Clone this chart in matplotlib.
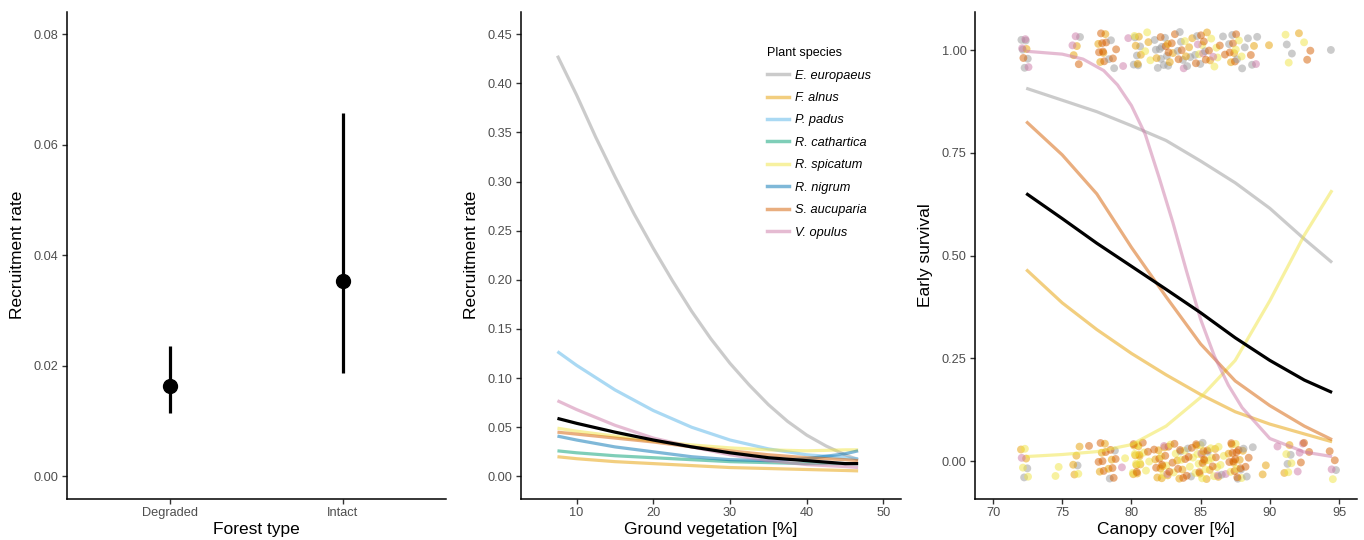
import numpy as np
import matplotlib
matplotlib.use('Agg')
import matplotlib.pyplot as plt
from matplotlib.lines import Line2D
from matplotlib.ticker import FormatStrFormatter

plt.rcParams['font.family'] = ['Liberation Sans', 'DejaVu Sans']

# ---------------- Panel 1 data ----------------
forest_types = ['Degraded', 'Intact']
rate_est = [0.0163, 0.0353]
rate_lo = [0.0114, 0.0187]
rate_hi = [0.0236, 0.0658]

# ---------------- species / colours ----------------
species = ['E. europaeus', 'F. alnus', 'P. padus', 'R. cathartica',
           'R. spicatum', 'R. nigrum', 'S. aucuparia', 'V. opulus']
species_colors = ['#999999', '#E69F00', '#56B4E9', '#009E73',
                  '#F0E442', '#0072B2', '#D55E00', '#CC79A7']

# ---------------- Panel 2 data ----------------
veg_x = [7.5, 10, 15, 20, 25, 30, 35, 40, 45, 46.7]
europaeus_x = [7.5, 10, 12.5, 15, 17.5, 20, 22.5, 25, 27.5, 30, 32.5, 35, 37.5, 40, 42.5, 45, 46.7]
veg_europaeus = [0.428, 0.388, 0.345, 0.305, 0.267, 0.232, 0.199, 0.168, 0.140, 0.115,
                 0.093, 0.073, 0.056, 0.042, 0.031, 0.022, 0.017]
veg_alnus = [0.020, 0.018, 0.015, 0.013, 0.011, 0.009, 0.008, 0.007, 0.006, 0.0056]
veg_padus = [0.127, 0.113, 0.088, 0.067, 0.050, 0.037, 0.028, 0.022, 0.019, 0.018]
veg_cathartica = [0.026, 0.024, 0.021, 0.019, 0.017, 0.015, 0.014, 0.013, 0.013, 0.013]
veg_spicatum = [0.049, 0.046, 0.041, 0.036, 0.032, 0.029, 0.027, 0.026, 0.027, 0.027]
veg_nigrum = [0.041, 0.037, 0.030, 0.025, 0.020, 0.017, 0.016, 0.018, 0.023, 0.026]
veg_aucuparia = [0.045, 0.043, 0.039, 0.035, 0.030, 0.026, 0.022, 0.019, 0.017, 0.016]
veg_opulus = [0.077, 0.068, 0.052, 0.039, 0.030, 0.022, 0.016, 0.012, 0.010, 0.009]
veg_overall = [0.059, 0.054, 0.045, 0.037, 0.030, 0.024, 0.019, 0.016, 0.013, 0.013]

# ---------------- Panel 3 data ----------------
cov_x = [72.4, 75, 77.5, 80, 82.5, 85, 87.5, 90, 92.5, 94.5]
surv_europaeus = [0.907, 0.878, 0.850, 0.816, 0.780, 0.730, 0.677, 0.615, 0.540, 0.483]
surv_alnus = [0.466, 0.385, 0.320, 0.262, 0.210, 0.162, 0.120, 0.090, 0.066, 0.047]
surv_spicatum = [0.011, 0.016, 0.023, 0.040, 0.085, 0.155, 0.245, 0.390, 0.550, 0.659]
surv_aucuparia = [0.826, 0.745, 0.650, 0.520, 0.400, 0.285, 0.195, 0.135, 0.085, 0.052]
surv_overall = [0.651, 0.590, 0.530, 0.474, 0.418, 0.361, 0.300, 0.245, 0.197, 0.167]
opulus_x = [72.4, 75, 76.5, 78, 79, 80, 81, 82, 83, 84, 85, 86, 87, 88, 90, 92.5, 94.5]
surv_opulus = [0.997, 0.990, 0.978, 0.950, 0.915, 0.865, 0.795, 0.690, 0.580, 0.460,
               0.345, 0.255, 0.185, 0.130, 0.055, 0.022, 0.011]

plot_cover = [72.3, 74.6, 76.0, 77.0, 77.9, 78.6, 79.6, 80.4, 81.1, 81.9,
              82.4, 82.9, 83.6, 84.2, 84.9, 85.4, 86.0, 86.6, 87.3, 87.8,
              88.2, 88.9, 89.7, 90.4, 91.3, 92.3, 92.7, 94.5]
alive_europaeus = [5,0,1,0,0,3,0,5,0,5,5,0,4,2,3,1,0,1,2,2,2,2,0,0,2,0,0,1]
dead_europaeus  = [2,0,1,0,0,2,0,0,0,0,0,0,1,2,0,2,0,1,0,2,2,1,0,0,2,0,0,1]
alive_alnus     = [1,0,2,0,4,0,0,4,1,1,0,3,0,3,0,2,0,0,2,0,0,1,1,0,0,1,0,0]
dead_alnus      = [2,0,4,0,3,2,0,9,0,5,3,0,3,0,3,4,2,0,3,2,0,0,2,0,2,0,0,0]
alive_spicatum  = [0,0,0,0,0,0,0,1,3,0,0,0,1,0,2,0,4,0,0,2,1,0,0,0,2,1,0,0]
dead_spicatum   = [3,2,1,0,0,0,1,5,3,0,3,3,2,2,4,3,4,3,2,2,0,0,0,0,3,0,0,1]
alive_aucuparia = [1,0,1,0,6,2,0,0,0,0,2,3,2,0,2,3,0,2,4,0,0,1,0,0,0,0,2,0]
dead_aucuparia  = [0,0,0,1,5,4,0,2,2,3,3,3,4,3,3,2,2,0,6,4,2,0,0,0,0,1,2,2]
alive_opulus    = [3,0,2,0,0,0,2,0,0,0,0,0,1,0,2,0,1,0,0,0,0,1,0,0,0,0,0,0]
dead_opulus     = [1,0,0,0,0,0,1,0,0,0,2,0,0,0,1,0,1,1,0,0,0,0,0,1,0,3,0,1]

# ---------------- figure ----------------
fig = plt.figure(figsize=(13.64, 5.40), dpi=100)
W, H = 1364.0, 540.0
y_top, y_bot = 12.0, 498.5
bot = (H - y_bot) / H
hgt = (y_bot - y_top) / H
ax1 = fig.add_axes([67 / W, bot, (446 - 67) / W, hgt])
ax2 = fig.add_axes([521 / W, bot, (900.7 - 521) / W, hgt])
ax3 = fig.add_axes([975 / W, bot, (1357 - 975) / W, hgt])

tick_col = '#4D4D4D'
for ax in (ax1, ax2, ax3):
    ax.spines['top'].set_visible(False)
    ax.spines['right'].set_visible(False)
    for s in ('left', 'bottom'):
        ax.spines[s].set_linewidth(1.1)
        ax.spines[s].set_color('black')
    ax.tick_params(axis='both', direction='out', length=3.5, width=1.0,
                   color='#333333', labelcolor=tick_col, labelsize=9.2, pad=2.5)

# Panel 1
xpos = np.arange(1, len(forest_types) + 1)
for xi, e, lo, hi in zip(xpos, rate_est, rate_lo, rate_hi):
    ax1.plot([xi, xi], [lo, hi], color='black', lw=2.3, solid_capstyle='butt')
ax1.plot(xpos, rate_est, 'o', color='black', markersize=10)
ax1.set_xlim(0.4, 2.6)
ax1.set_ylim(-0.004, 0.084)
ax1.set_xticks(xpos)
ax1.set_xticklabels(forest_types)
ax1.set_yticks([0, 0.02, 0.04, 0.06, 0.08])
ax1.yaxis.set_major_formatter(FormatStrFormatter('%.2f'))
ax1.set_xlabel('Forest type', fontsize=12.5, labelpad=2)
ax1.set_ylabel('Recruitment rate', fontsize=12.5, labelpad=6)

# Panel 2
veg_series = [(europaeus_x, veg_europaeus), (veg_x, veg_alnus), (veg_x, veg_padus),
              (veg_x, veg_cathartica), (veg_x, veg_spicatum), (veg_x, veg_nigrum),
              (veg_x, veg_aucuparia), (veg_x, veg_opulus)]
for sp, col, (xs, ys) in zip(species, species_colors, veg_series):
    ax2.plot(xs, ys, color=col, alpha=0.5, lw=2.3, solid_capstyle='butt')
ax2.plot(veg_x, veg_overall, color='black', lw=2.3, solid_capstyle='butt')
ax2.set_xlim(2.75, 52.25)
ax2.set_ylim(-0.0225, 0.4725)
ax2.set_xticks([10, 20, 30, 40, 50])
ax2.set_yticks(np.round(np.arange(0, 0.451, 0.05), 2))
ax2.yaxis.set_major_formatter(FormatStrFormatter('%.2f'))
ax2.set_xlabel('Ground vegetation [%]', fontsize=12.5, labelpad=2)
ax2.set_ylabel('Recruitment rate', fontsize=12.5, labelpad=6)

handles = [Line2D([0], [0], color=c, alpha=0.5, lw=2.5) for c in species_colors]
leg = ax2.legend(handles, species, loc='upper left', bbox_to_anchor=(0.648, 0.928),
                 frameon=False, title='Plant species', fontsize=9.2,
                 title_fontsize=9.0, handlelength=1.7, handletextpad=0.5,
                 labelspacing=0.82, borderpad=0, borderaxespad=0)
for t in leg.get_texts():
    t.set_fontstyle('italic')
leg._legend_box.align = 'left'

# Panel 3 points
alive_sets = [alive_europaeus, alive_alnus, alive_spicatum, alive_aucuparia, alive_opulus]
dead_sets = [dead_europaeus, dead_alnus, dead_spicatum, dead_aucuparia, dead_opulus]
pt_colors = ['#999999', '#E69F00', '#F0E442', '#D55E00', '#CC79A7']
px, py, pc = [], [], []
k = 0
for i, cov in enumerate(plot_cover):
    for outcome, sets in ((1.0, alive_sets), (0.0, dead_sets)):
        for sset, col in zip(sets, pt_colors):
            for _ in range(sset[i]):
                k += 1
                jx = ((k * 0.6180339887) % 1.0 - 0.5) * 0.6
                jy = ((k * 0.7548776662) % 1.0 - 0.5) * 0.09
                px.append(cov + jx)
                py.append(outcome + jy)
                pc.append(col)
ax3.scatter(px, py, s=32, c=pc, alpha=0.5, linewidths=0, zorder=2)

surv_series = [(cov_x, surv_europaeus, '#999999'), (cov_x, surv_alnus, '#E69F00'),
               (cov_x, surv_spicatum, '#F0E442'), (cov_x, surv_aucuparia, '#D55E00'),
               (opulus_x, surv_opulus, '#CC79A7')]
for xs, ys, col in surv_series:
    ax3.plot(xs, ys, color=col, alpha=0.5, lw=2.3, zorder=3, solid_capstyle='butt')
ax3.plot(cov_x, surv_overall, color='black', lw=2.3, zorder=4, solid_capstyle='butt')
ax3.set_xlim(68.7, 96.3)
ax3.set_ylim(-0.091, 1.0925)
ax3.set_xticks([70, 75, 80, 85, 90, 95])
ax3.set_yticks([0, 0.25, 0.5, 0.75, 1.0])
ax3.yaxis.set_major_formatter(FormatStrFormatter('%.2f'))
ax3.set_xlabel('Canopy cover [%]', fontsize=12.5, labelpad=2)
ax3.set_ylabel('Early survival', fontsize=12.5, labelpad=6)

fig.savefig('out.png', dpi=100)
